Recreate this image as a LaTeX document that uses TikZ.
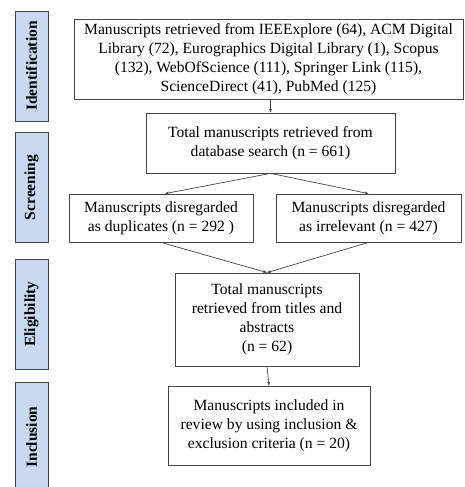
\documentclass[tikz,border=0pt]{standalone}
\usepackage{fontspec}
\setmainfont{Liberation Serif}
\usetikzlibrary{arrows.meta}
\definecolor{phasefill}{RGB}{201,218,240}
\definecolor{linegray}{RGB}{70,70,70}
\tikzset{
  phase/.style={draw=linegray, fill=phasefill, line width=0.9pt, rotate=90, minimum width=110pt, minimum height=33pt, inner sep=0pt, font=\fontsize{15.5}{18}\selectfont\bfseries},
  stagebox/.style={draw=linegray, line width=0.8pt, align=center, inner sep=2pt, font=\fontsize{15.6}{19}\selectfont},
  flow/.style={draw=linegray, line width=0.7pt, -{Stealth[length=4pt, width=3pt]}}
}
\begin{document}
\begin{tikzpicture}[x=1pt, y=-1pt]
  \useasboundingbox (0,0) rectangle (464,487);
  \clip (0,0) rectangle (464,487);
  % phase labels on the left
  \node[phase] (ident) at (31.5,66){Identification};
  \node[phase] (screen) at (31.5,187.5){Screening};
  \node[phase] (elig) at (31.5,314){Eligibility};
  \node[phase] (incl) at (31.5,437){Inclusion};
  % flow boxes
  \node[stagebox, minimum width=389pt, minimum height=80pt] (src) at (268.5,59){Manuscripts retrieved from IEEExplore (64), ACM Digital\\ Library (72), Eurographics Digital Library (1), Scopus\\ (132), WebOfScience (111), Springer Link (115),\\ ScienceDirect (41), PubMed (125)};
  \node[stagebox, minimum width=249pt, minimum height=60pt] (tot) at (270.5,143){Total manuscripts retrieved from\\ database search (n = 661)};
  \node[stagebox, minimum width=184pt, minimum height=48pt] (dup) at (161,218){Manuscripts disregarded\\ as duplicates (n = 292 )};
  \node[stagebox, minimum width=185pt, minimum height=48pt] (irr) at (368.5,218){Manuscripts disregarded\\ as irrelevant (n = 427)};
  \node[stagebox, minimum width=184pt, minimum height=93pt] (titl) at (267,319.5){Total manuscripts\\ retrieved from titles and\\ abstracts\\ (n = 62)};
  \node[stagebox, minimum width=202pt, minimum height=79pt] (fin) at (269,425.5){Manuscripts included in\\ review by using inclusion \&\\ exclusion criteria (n = 20)};
  % connectors
  \draw[flow] (src.south -| tot.north) -- (tot.north);
  \draw[flow] (tot.south) -- ([xshift=4pt]dup.north);
  \draw[flow] (tot.south) -- (irr.north);
  \draw[flow] (dup.south) -- (titl.north);
  \draw[flow] (irr.south) -- (titl.north);
  \draw[flow] (titl.south) -- (fin.north);
\end{tikzpicture}
\end{document}
